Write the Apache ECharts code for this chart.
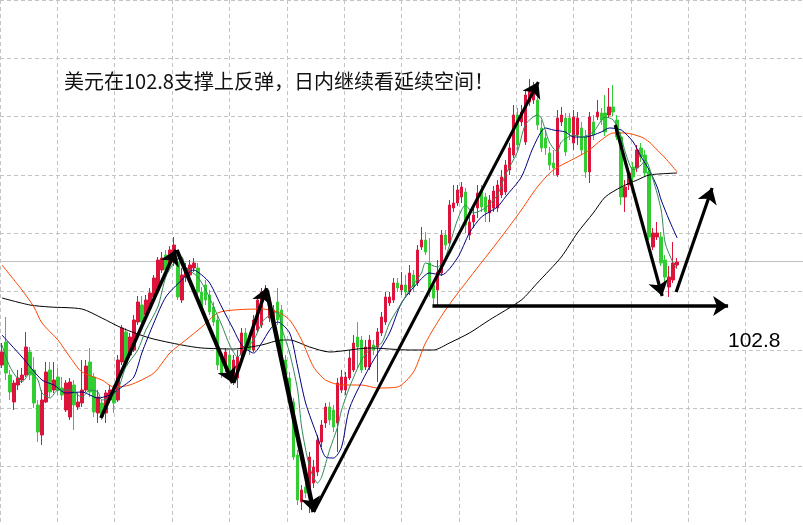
<!DOCTYPE html>
<html>
<head>
<meta charset="utf-8">
<title>美元指数 小时图</title>
<style>
  html, body { margin: 0; padding: 0; background: #ffffff; }
  #chart { width: 803px; height: 525px; }
</style>
<script src="https://cdn.jsdelivr.net/npm/echarts@6/dist/echarts.min.js"></script>
</head>
<body>
<div id="chart"></div>
<script>
// Hourly US dollar index bars (open / close / low / high), oldest first
const opens = [
  102.564,102.656,102.524,102.416,102.484,102.504,102.524,102.616,102.544,102.404,
  102.284,102.416,102.544,102.464,102.516,102.472,102.384,102.356,102.484,102.396,
  102.412,102.464,102.576,102.516,102.372,102.412,102.372,102.424,102.464,102.424,
  102.576,102.696,102.604,102.624,102.736,102.804,102.764,102.792,102.836,102.864,
  102.944,103.004,102.972,102.976,102.976,102.824,102.916,102.924,102.952,102.952,
  102.856,102.884,102.844,102.796,102.744,102.604,102.552,102.604,102.504,102.512,
  102.604,102.692,102.676,102.624,102.704,102.724,102.836,102.752,102.724,102.816,
  102.784,102.584,102.512,102.416,102.204,102.016,102.076,102.056,102.092,102.136,
  102.256,102.332,102.396,102.384,102.332,102.464,102.464,102.512,102.544,102.676,
  102.664,102.556,102.556,102.644,102.636,102.692,102.736,102.812,102.824,102.892,
  102.864,102.884,102.856,102.924,102.892,103.036,103.064,102.972,102.884,102.864,
  102.932,103.084,103.052,103.192,103.212,103.236,103.256,103.084,103.136,103.192,
  103.264,103.236,103.172,103.192,103.192,103.244,103.256,103.344,103.404,103.564,
  103.536,103.456,103.616,103.624,103.624,103.512,103.472,103.412,103.372,103.324,
  103.536,103.552,103.552,103.452,103.484,103.512,103.476,103.336,103.536,103.556,
  103.572,103.572,103.564,103.596,103.544,103.476,103.236,103.284,103.356,103.352,
  103.432,103.404,103.336,103.036,103.076,103.076,102.984,102.876,102.904,102.964
];
const closes = [
  102.616,102.532,102.456,102.492,102.512,102.524,102.636,102.524,102.412,102.296,
  102.424,102.536,102.456,102.504,102.464,102.444,102.492,102.496,102.404,102.416,
  102.464,102.560,102.456,102.376,102.436,102.356,102.452,102.464,102.412,102.584,
  102.712,102.564,102.676,102.744,102.816,102.736,102.824,102.852,102.912,102.984,
  102.992,102.944,103.024,103.044,102.836,102.924,102.952,102.964,102.972,102.856,
  102.784,102.824,102.776,102.736,102.564,102.532,102.616,102.524,102.584,102.596,
  102.692,102.632,102.624,102.744,102.824,102.856,102.864,102.804,102.784,102.744,
  102.584,102.504,102.412,102.196,102.024,102.064,102.052,102.196,102.156,102.264,
  102.324,102.396,102.344,102.316,102.492,102.516,102.516,102.592,102.652,102.636,
  102.544,102.636,102.664,102.624,102.696,102.756,102.836,102.836,102.892,102.872,
  102.884,102.856,102.932,102.876,103.024,103.064,103.016,102.856,102.832,102.936,
  103.084,103.044,103.204,103.212,103.264,103.276,103.124,103.136,103.164,103.252,
  103.196,103.176,103.224,103.260,103.284,103.316,103.364,103.432,103.564,103.444,
  103.576,103.644,103.664,103.672,103.524,103.432,103.432,103.364,103.352,103.552,
  103.564,103.416,103.492,103.556,103.552,103.424,103.336,103.556,103.484,103.576,
  103.544,103.496,103.596,103.576,103.476,103.236,103.276,103.332,103.316,103.424,
  103.396,103.332,103.076,103.092,103.092,102.972,102.916,102.916,102.972,102.976
];
const lows = [
  102.552,102.504,102.424,102.384,102.464,102.492,102.516,102.504,102.392,102.256,
  102.244,102.412,102.436,102.452,102.444,102.424,102.376,102.344,102.304,102.384,
  102.396,102.456,102.436,102.356,102.332,102.344,102.332,102.412,102.372,102.416,
  102.564,102.552,102.592,102.616,102.724,102.716,102.752,102.776,102.824,102.856,
  102.932,102.920,102.952,102.960,102.824,102.812,102.896,102.912,102.936,102.840,
  102.772,102.804,102.764,102.720,102.544,102.512,102.536,102.504,102.484,102.472,
  102.584,102.616,102.604,102.616,102.692,102.712,102.824,102.736,102.712,102.724,
  102.572,102.484,102.396,102.184,102.004,101.984,102.032,101.972,102.072,102.120,
  102.236,102.312,102.324,102.296,102.216,102.452,102.444,102.504,102.536,102.552,
  102.532,102.544,102.544,102.604,102.496,102.680,102.724,102.800,102.812,102.856,
  102.844,102.836,102.844,102.856,102.880,103.024,103.004,102.836,102.796,102.796,
  102.920,103.024,103.040,103.176,103.200,103.212,103.092,103.064,103.112,103.152,
  103.176,103.136,103.136,103.176,103.176,103.232,103.244,103.324,103.392,103.424,
  103.520,103.444,103.600,103.608,103.504,103.416,103.404,103.344,103.324,103.316,
  103.520,103.400,103.464,103.424,103.444,103.404,103.312,103.292,103.464,103.544,
  103.524,103.480,103.552,103.560,103.464,103.204,103.176,103.264,103.296,103.336,
  103.376,103.316,103.064,103.024,103.064,102.960,102.892,102.836,102.892,102.952
];
const highs = [
  102.652,102.756,102.544,102.504,102.544,102.552,102.696,102.636,102.596,102.424,
  102.464,102.576,102.576,102.576,102.552,102.516,102.504,102.512,102.504,102.452,
  102.584,102.584,102.632,102.532,102.464,102.424,102.464,102.484,102.484,102.604,
  102.724,102.712,102.692,102.764,102.840,102.840,102.844,102.872,102.924,102.996,
  103.016,103.024,103.040,103.076,102.992,102.952,102.972,102.984,102.992,102.972,
  102.876,102.904,102.864,102.816,102.764,102.616,102.632,102.624,102.604,102.624,
  102.712,102.712,102.696,102.764,102.844,102.872,102.884,102.832,102.804,102.872,
  102.804,102.604,102.536,102.432,102.224,102.084,102.096,102.216,102.184,102.284,
  102.344,102.412,102.416,102.404,102.512,102.544,102.536,102.624,102.684,102.736,
  102.680,102.664,102.684,102.664,102.712,102.776,102.856,102.856,102.912,102.912,
  102.936,102.924,102.964,102.944,103.044,103.116,103.096,103.072,102.904,102.984,
  103.104,103.104,103.224,103.284,103.284,103.296,103.272,103.164,103.192,103.284,
  103.284,103.252,103.244,103.280,103.304,103.344,103.384,103.452,103.604,103.592,
  103.604,103.664,103.708,103.696,103.644,103.544,103.504,103.436,103.424,103.584,
  103.596,103.572,103.572,103.584,103.576,103.536,103.504,103.576,103.564,103.624,
  103.592,103.644,103.672,103.684,103.564,103.496,103.304,103.352,103.376,103.444,
  103.452,103.424,103.352,103.112,103.136,103.096,103.004,102.960,103.056,102.992
];

// Moving averages, read as [bar index, price]
const maFast = [ // green
  [0,102.644],[2,102.556],[5,102.496],[6,102.512],[7,102.536],[9,102.504],[10,102.452],
  [12,102.432],[14,102.464],[17,102.464],[20,102.436],[22,102.464],[24,102.456],[25,102.424],
  [27,102.432],[29,102.464],[31,102.556],[34,102.624],[36,102.704],[39,102.796],[41,102.916],
  [43,102.972],[45,102.996],[46,102.956],[49,102.916],[51,102.864],[53,102.796],[55,102.724],
  [57,102.644],[59,102.596],[60,102.612],[63,102.664],[65,102.732],[66,102.752],[69,102.776],
  [70,102.712],[72,102.612],[74,102.464],[75,102.316],[77,102.156],[79,102.092],[80,102.116],
  [82,102.224],[84,102.316],[85,102.384],[87,102.476],[90,102.584],[92,102.624],[95,102.652],
  [97,102.732],[100,102.812],[102,102.864],[105,102.932],[106,102.972],[109,102.956],[111,102.996],
  [114,103.144],[116,103.204],[118,103.172],[121,103.192],[124,103.244],[126,103.324],[129,103.416],
  [131,103.524],[134,103.564],[135,103.552],[137,103.456],[139,103.416],[140,103.456],[143,103.484],
  [145,103.476],[148,103.496],[151,103.556],[153,103.544],[155,103.476],[156,103.416],[158,103.344],
  [160,103.364],[161,103.384],[163,103.304],[165,103.184],[166,103.052],[168,102.972],[169,102.948]
];
const maMid = [ // navy
  [0,102.684],[5,102.596],[10,102.504],[13,102.484],[16,102.452],[20,102.456],[24,102.432],
  [27,102.444],[30,102.476],[33,102.516],[35,102.612],[38,102.732],[41,102.836],[45,102.904],
  [48,102.944],[50,102.924],[52,102.892],[55,102.796],[58,102.704],[60,102.644],[63,102.612],
  [65,102.652],[67,102.704],[69,102.736],[72,102.692],[74,102.556],[76,102.412],[79,102.276],
  [81,102.196],[83,102.192],[85,102.236],[87,102.392],[92,102.556],[97,102.692],[100,102.812],
  [104,102.892],[107,102.932],[110,102.924],[114,102.992],[117,103.092],[120,103.156],[124,103.196],
  [126,103.236],[130,103.316],[133,103.436],[136,103.512],[138,103.504],[141,103.496],[143,103.476],
  [146,103.476],[150,103.496],[152,103.512],[155,103.504],[158,103.456],[160,103.396],[162,103.344],
  [164,103.276],[165,103.224],[167,103.144],[169,103.072]
];
const maSlow = [ // orange
  [0,102.964],[5,102.864],[8,102.796],[10,102.732],[14,102.664],[17,102.596],[20,102.536],
  [25,102.504],[28,102.476],[32,102.484],[38,102.532],[42,102.612],[46,102.664],[50,102.716],
  [54,102.772],[58,102.784],[65,102.788],[69,102.776],[72,102.744],[75,102.664],[78,102.556],
  [81,102.504],[85,102.484],[90,102.484],[94,102.472],[99,102.476],[103,102.536],[106,102.652],
  [111,102.784],[117,102.912],[125,103.076],[130,103.184],[134,103.276],[138,103.344],[144,103.396],
  [147,103.424],[150,103.464],[153,103.492],[156,103.492],[160,103.476],[162,103.456],[164,103.424],
  [166,103.392],[169,103.336]
];
const maLong = [ // black
  [0,102.832],[7,102.804],[12,102.796],[20,102.788],[25,102.752],[30,102.712],[37,102.672],
  [45,102.644],[50,102.632],[58,102.628],[65,102.644],[70,102.664],[72,102.664],[77,102.636],
  [82,102.616],[92,102.632],[102,102.624],[108,102.624],[112,102.652],[117,102.692],[122,102.744],
  [130,102.824],[134,102.892],[140,102.996],[144,103.092],[148,103.172],[151,103.236],[155,103.276],
  [159,103.304],[162,103.324],[169,103.332]
];

// Drawn trend arrows: [from bar, from price, to bar, to price]
const arrowPaths = [
  [24.75, 102.352, 43.5, 103.024],
  [43.75, 103.024, 57.75, 102.492],
  [58, 102.492, 66.25, 102.872],
  [66.25, 102.864, 78, 101.976],
  [78, 101.976, 134.25, 103.696],
  [107.75, 102.8, 181.75, 102.8],
  [153.5, 103.524, 165.25, 102.84],
  [168.75, 102.856, 177.75, 103.272]
];
const supportLevel = 102.8;
const lastPrice = 102.976;
const headline = '美元在102.8支撑上反弹，日内继续看延续空间！';
const levelLabel = '102.8';

// ---- layout / style ----
const arrowWidths = [3.5, 4, 3.5, 4.5, 3, 3.5, 3.2, 3.2];
const SLOTS = 201;                  // bar slots across the full width, 4 px each
const PRICE_MIN = 101.924, PRICE_MAX = 104.024;
const slotNames = Array.from({ length: SLOTS }, (_, i) => 'h' + i);
const candles = opens.map((o, i) => [o, closes[i], lows[i], highs[i]]);

const UP = '#dc143c', DOWN = '#32cd32';
const dashed = { show: true, lineStyle: { color: '#c4c4c4', width: 1, type: [4, 3] } };
const hidden = { axisLine: { show: false }, axisTick: { show: false }, axisLabel: { show: false } };

function maSeries(data, color) {
  return {
    type: 'line', xAxisIndex: 2, yAxisIndex: 2, data: data,
    showSymbol: false, symbol: 'none', smooth: 0.25, z: 4, silent: true,
    lineStyle: { color: color, width: 1 }
  };
}

const chart = echarts.init(document.getElementById('chart'), null, { renderer: 'canvas' });
chart.setOption({
  animation: false,
  backgroundColor: '#ffffff',
  grid: [
    { left: -15, top: -19, width: 896, height: 585 },   // lattice
    { left: -1, top: 0, width: 804, height: 525 },      // bars
    { left: -1, top: 0, width: 804, height: 525 }       // overlays
  ],
  xAxis: [
    Object.assign({ gridIndex: 0, type: 'value', min: 0, max: 14, interval: 1, splitLine: dashed }, hidden),
    Object.assign({ gridIndex: 1, type: 'category', data: slotNames, boundaryGap: true, splitLine: { show: false } }, hidden),
    Object.assign({ gridIndex: 2, type: 'value', min: -0.5, max: SLOTS - 0.5, splitLine: { show: false } }, hidden)
  ],
  yAxis: [
    Object.assign({ gridIndex: 0, type: 'value', min: 0, max: 9, interval: 1, splitLine: dashed }, hidden),
    Object.assign({ gridIndex: 1, type: 'value', min: PRICE_MIN, max: PRICE_MAX, scale: true, splitLine: { show: false } }, hidden),
    Object.assign({ gridIndex: 2, type: 'value', min: PRICE_MIN, max: PRICE_MAX, scale: true, splitLine: { show: false } }, hidden)
  ],
  series: [
    {
      type: 'candlestick', xAxisIndex: 1, yAxisIndex: 1, data: candles,
      barWidth: 3, z: 3, silent: true,
      itemStyle: { color: UP, color0: DOWN, borderColor: UP, borderColor0: DOWN, borderWidth: 1 },
      markLine: {
        silent: true, symbol: 'none', z: 1,
        label: { show: false },
        lineStyle: { color: '#bfbfbf', type: 'solid', width: 1 },
        data: [{ yAxis: lastPrice }]
      }
    },
    maSeries(maLong, '#000000'),
    maSeries(maSlow, '#ff4500'),
    maSeries(maMid, '#000080'),
    maSeries(maFast, '#2e8b57'),
    {
      type: 'lines', coordinateSystem: 'cartesian2d', xAxisIndex: 2, yAxisIndex: 2,
      z: 10, silent: true,
      symbol: ['none', 'arrow'], symbolSize: [11, 15],
      lineStyle: { color: '#000000', width: 3, opacity: 1, curveness: 0 },
      data: arrowPaths.map((a, k) => ({
        coords: [[a[0], a[1]], [a[2], a[3]]],
        lineStyle: { width: arrowWidths[k] }
      }))
    }
  ],
  graphic: [
    {
      type: 'text', left: 64, top: 71, z: 20, silent: true,
      style: { text: headline, font: '20px "Noto Sans CJK SC", sans-serif', fill: '#111111' }
    },
    {
      type: 'text', left: 728, top: 331, z: 20, silent: true,
      style: { text: levelLabel, font: '21px "Liberation Sans", Arial, sans-serif', fill: '#000000' }
    }
  ]
});
</script>
</body>
</html>
